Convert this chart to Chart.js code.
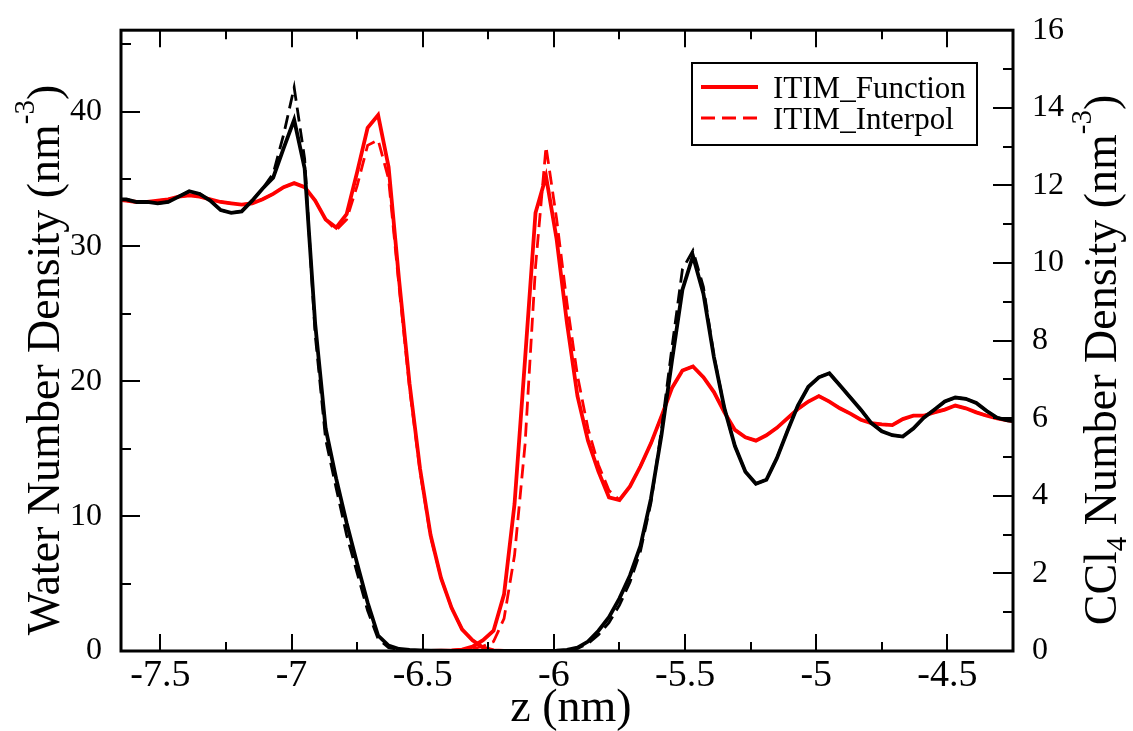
<!DOCTYPE html>
<html>
<head>
<meta charset="utf-8">
<title>ITIM density profiles</title>
<script src="https://cdn.jsdelivr.net/npm/chart.js"></script>
<style>
  html, body { margin: 0; padding: 0; background: #fff; }
  #wrap { width: 1133px; height: 731px; }
</style>
</head>
<body>
<div id="wrap"><canvas id="densityChart" width="1133" height="731"></canvas></div>
<script>
// z positions (nm) shared by all profiles
var zValues = [
  -7.67, -7.63, -7.59, -7.55, -7.51, -7.47, -7.43, -7.39, -7.35, -7.31,
  -7.27, -7.23, -7.19, -7.15, -7.11, -7.07, -7.03, -6.99, -6.95, -6.91,
  -6.87, -6.83, -6.79, -6.75, -6.71, -6.67, -6.63, -6.59, -6.55, -6.51,
  -6.47, -6.43, -6.39, -6.35, -6.31, -6.27, -6.23, -6.19, -6.15, -6.11,
  -6.07, -6.03, -5.99, -5.95, -5.91, -5.87, -5.83, -5.79, -5.75, -5.71,
  -5.67, -5.63, -5.59, -5.55, -5.51, -5.47, -5.43, -5.39, -5.35, -5.31,
  -5.27, -5.23, -5.19, -5.15, -5.11, -5.07, -5.03, -4.99, -4.95, -4.91,
  -4.87, -4.83, -4.79, -4.75, -4.71, -4.67, -4.63, -4.59, -4.55, -4.51,
  -4.47, -4.43, -4.39, -4.35, -4.31, -4.27, -4.23
];

// black profile, function version
var blackFunction = [
  33.5, 33.5, 33.3, 33.3, 33.2, 33.3, 33.7, 34.1, 33.9, 33.4,
  32.7, 32.5, 32.6, 33.4, 34.3, 35.1, 37.3, 39.4, 35.8, 24.3,
  16.5, 12.8, 9.5, 6.5, 3.6, 1.15, 0.4, 0.15, 0.08, 0.05,
  0.03, 0.02, 0.01, 0, 0, 0, 0, 0, 0, 0,
  0, 0.01, 0.02, 0.08, 0.25, 0.7, 1.5, 2.5, 3.9, 5.6,
  7.8, 11.3, 16.0, 21.5, 26.8, 29.3, 26.5, 21.8, 18.0, 15.2,
  13.3, 12.4, 12.7, 14.3, 16.3, 18.2, 19.6, 20.3, 20.6, 19.7,
  18.8, 17.9, 16.9, 16.3, 16.0, 15.9, 16.5, 17.3, 17.9, 18.5,
  18.8, 18.7, 18.4, 17.8, 17.3, 17.1, 17.0
];

// black profile, interpolated version
var blackInterpol = [
  33.5, 33.5, 33.3, 33.3, 33.2, 33.3, 33.7, 34.1, 33.9, 33.4,
  32.7, 32.5, 32.6, 33.4, 34.3, 35.4, 38.3, 41.8, 36.5, 23.5,
  15.7, 12.1, 8.6, 5.8, 3.0, 0.9, 0.25, 0.1, 0.05, 0.03,
  0.02, 0.01, 0, 0, 0, 0, 0, 0, 0, 0,
  0, 0, 0.01, 0.05, 0.2, 0.55, 1.2, 2.1, 3.4, 5.1,
  7.4, 11.0, 16.4, 22.5, 28.3, 29.7, 27.0, 21.9, 18.0, 15.2,
  13.3, 12.4, 12.7, 14.3, 16.3, 18.2, 19.6, 20.3, 20.6, 19.7,
  18.8, 17.9, 16.9, 16.3, 16.0, 15.9, 16.5, 17.3, 17.9, 18.5,
  18.8, 18.7, 18.4, 17.8, 17.3, 17.1, 17.0
];

// red profile on the left of the gap (ITIM_Function / ITIM_Interpol)
var redLeftFunction = [
  33.5, 33.4, 33.3, 33.3, 33.4, 33.5, 33.7, 33.8, 33.7, 33.5,
  33.3, 33.2, 33.1, 33.2, 33.5, 33.9, 34.4, 34.7, 34.4, 33.4,
  32.0, 31.4, 32.4, 35.5, 38.8, 39.75, 35.9, 27.5, 19.8, 13.5,
  8.6, 5.4, 3.2, 1.6, 0.8, 0.25, 0.05, 0, 0, 0,
  0, 0, 0, null, null, null, null, null, null, null,
  null, null, null, null, null, null, null, null, null, null,
  null, null, null, null, null, null, null, null, null, null,
  null, null, null, null, null, null, null, null, null, null,
  null, null, null, null, null, null, null
];

var redLeftInterpol = [
  33.5, 33.4, 33.3, 33.3, 33.4, 33.5, 33.7, 33.8, 33.7, 33.5,
  33.3, 33.2, 33.1, 33.2, 33.5, 33.9, 34.4, 34.7, 34.4, 33.4,
  32.0, 31.2, 32.0, 34.5, 37.5, 37.9, 35.0, 27.0, 19.5, 13.3,
  8.5, 5.4, 3.2, 1.6, 0.8, 0.25, 0.05, 0, 0, 0,
  0, 0, 0, null, null, null, null, null, null, null,
  null, null, null, null, null, null, null, null, null, null,
  null, null, null, null, null, null, null, null, null, null,
  null, null, null, null, null, null, null, null, null, null,
  null, null, null, null, null, null, null
];

// red profile on the right of the gap
var redRightFunction = [
  null, null, null, null, null, null, null, null, null, null,
  null, null, null, null, null, null, null, null, null, null,
  null, null, null, null, null, null, null, null, 0, 0,
  0, 0.02, 0.05, 0.1, 0.32, 0.8, 1.5, 4.2, 10.9, 21.6,
  32.5, 35.2, 30.6, 24.3, 18.9, 15.6, 13.3, 11.4, 11.2, 12.2,
  13.7, 15.4, 17.4, 19.5, 20.8, 21.1, 20.3, 19.2, 17.7, 16.4,
  15.85, 15.6, 16.0, 16.55, 17.25, 17.95, 18.5, 18.9, 18.5, 18.0,
  17.6, 17.15, 16.9, 16.8, 16.75, 17.2, 17.45, 17.45, 17.7, 17.9,
  18.2, 18.0, 17.7, 17.45, 17.25, 17.1, 17.0
];

var redRightInterpol = [
  null, null, null, null, null, null, null, null, null, null,
  null, null, null, null, null, null, null, null, null, null,
  null, null, null, null, null, null, null, null, 0, 0,
  0, 0.02, 0.05, 0.1, 0.15, 0.35, 0.7, 2.4, 7.1, 15.3,
  28.5, 37.4, 32.1, 25.8, 20.4, 16.5, 13.8, 11.9, 11.2, 12.2,
  13.7, 15.4, 17.4, 19.5, 20.8, 21.1, 20.3, 19.2, 17.7, 16.4,
  15.85, 15.6, 16.0, 16.55, 17.25, 17.95, 18.5, 18.9, 18.5, 18.0,
  17.6, 17.15, 16.9, 16.8, 16.75, 17.2, 17.45, 17.45, 17.7, 17.9,
  18.2, 18.0, 17.7, 17.45, 17.25, 17.1, 17.0
];

var zTicks = [-7.5, -7, -6.5, -6, -5.5, -5, -4.5];
var waterTicks = [0, 10, 20, 30, 40];
var ccl4Ticks = [0, 2, 4, 6, 8, 10, 12, 14, 16];
var legendLabels = ['ITIM_Function', 'ITIM_Interpol'];

var SERIF = '"Liberation Serif", "Times New Roman", serif';
var RED = '#ff0000';

function toPoints(values) {
    return zValues.map(function (z, i) {
        return { x: z, y: values[i] };
    }).filter(function (p) { return p.y !== null; });
}

function profile(label, values, color, dashed) {
    return {
        label: label,
        data: toPoints(values),
        borderColor: color,
        borderWidth: dashed ? 2.8 : 3.8,
        borderDash: dashed ? [14, 7] : [],
        pointRadius: 0,
        fill: false,
        tension: 0
    };
}

// inward tick marks on all four sides plus the frame
var frameTicks = {
    id: 'frameTicks',
    afterDatasetsDraw: function (chart) {
        var ctx = chart.ctx;
        var a = chart.chartArea;
        var sx = chart.scales.x, sy = chart.scales.y, sr = chart.scales.y1;
        ctx.save();
        ctx.strokeStyle = '#000';
        ctx.lineWidth = 2;
        ctx.beginPath();
        function xTick(v, len) {
            var px = Math.round(sx.getPixelForValue(v));
            ctx.moveTo(px, a.bottom); ctx.lineTo(px, a.bottom - len);
            ctx.moveTo(px, a.top); ctx.lineTo(px, a.top + len);
        }
        zTicks.forEach(function (v, i) {
            xTick(v, 17);
            if (i < zTicks.length - 1) xTick(v + 0.25, 9);
        });
        waterTicks.forEach(function (v) {
            var py = Math.round(sy.getPixelForValue(v));
            ctx.moveTo(a.left, py); ctx.lineTo(a.left + 19, py);
            var pm = Math.round(sy.getPixelForValue(v + 5));
            if (pm > a.top) { ctx.moveTo(a.left, pm); ctx.lineTo(a.left + 10, pm); }
        });
        ccl4Ticks.forEach(function (v) {
            var py = Math.round(sr.getPixelForValue(v));
            ctx.moveTo(a.right, py); ctx.lineTo(a.right - 20, py);
            var pm = Math.round(sr.getPixelForValue(v + 1));
            if (pm > a.top) { ctx.moveTo(a.right, pm); ctx.lineTo(a.right - 10, pm); }
        });
        ctx.stroke();
        ctx.lineWidth = 3;
        ctx.strokeRect(a.left, a.top, a.right - a.left, a.bottom - a.top);
        ctx.restore();
    }
};

// text runs with sub/superscripts, centred on (x, y)
function drawRich(ctx, parts, x, y, angle) {
    ctx.save();
    ctx.translate(x, y);
    ctx.rotate(angle);
    ctx.fillStyle = '#000';
    ctx.textAlign = 'left';
    ctx.textBaseline = 'alphabetic';
    var total = 0;
    parts.forEach(function (p) {
        ctx.font = p.size + 'px ' + SERIF;
        p.w = ctx.measureText(p.text).width;
        total += p.w;
    });
    var cx = -total / 2;
    parts.forEach(function (p) {
        ctx.font = p.size + 'px ' + SERIF;
        ctx.fillText(p.text, cx, p.shift || 0);
        cx += p.w;
    });
    ctx.restore();
}

var titlesAndLegend = {
    id: 'titlesAndLegend',
    afterDraw: function (chart) {
        var ctx = chart.ctx;
        var a = chart.chartArea;

        drawRich(ctx, [{ text: 'z (nm)', size: 46 }], (a.left + a.right) / 2 + 4, 721, 0);
        drawRich(ctx, [
            { text: 'Water Number Density (nm', size: 46 },
            { text: '-3', size: 29, shift: -25 },
            { text: ')', size: 46 }
        ], 59, 360, -Math.PI / 2);
        drawRich(ctx, [
            { text: 'CCl', size: 46 },
            { text: '4', size: 29, shift: 10 },
            { text: ' Number Density (nm', size: 46 },
            { text: '-3', size: 29, shift: -25 },
            { text: ')', size: 46 }
        ], 1116, 360, -Math.PI / 2);

        // legend box
        var bx = 692, by = 63, bw = 285, bh = 82;
        ctx.save();
        ctx.fillStyle = '#fff';
        ctx.fillRect(bx, by, bw, bh);
        ctx.strokeStyle = '#000';
        ctx.lineWidth = 2;
        ctx.strokeRect(bx, by, bw, bh);
        var rows = [87, 118];
        ctx.strokeStyle = RED;
        rows.forEach(function (ry, i) {
            ctx.beginPath();
            ctx.lineWidth = i === 0 ? 3.8 : 2.8;
            ctx.setLineDash(i === 0 ? [] : [14, 7]);
            ctx.moveTo(701, ry);
            ctx.lineTo(758, ry);
            ctx.stroke();
        });
        ctx.setLineDash([]);
        ctx.fillStyle = '#000';
        ctx.font = '31px ' + SERIF;
        ctx.textAlign = 'left';
        ctx.textBaseline = 'alphabetic';
        rows.forEach(function (ry, i) {
            ctx.fillText(legendLabels[i], 773, ry + 10.5);
        });
        ctx.restore();
    }
};

var ctx = document.getElementById('densityChart').getContext('2d');
var densityChart = new Chart(ctx, {
    type: 'line',
    data: {
        datasets: [
            profile('Black function', blackFunction, '#000', false),
            profile('Black interpol', blackInterpol, '#000', true),
            profile('ITIM_Function', redLeftFunction, RED, false),
            profile('ITIM_Interpol', redLeftInterpol, RED, true),
            profile('ITIM_Function right', redRightFunction, RED, false),
            profile('ITIM_Interpol right', redRightInterpol, RED, true)
        ]
    },
    options: {
        responsive: false,
        animation: false,
        devicePixelRatio: 1,
        layout: { padding: { top: 28, left: 0, right: 0, bottom: 0 } },
        plugins: {
            legend: { display: false },
            tooltip: { enabled: false }
        },
        scales: {
            x: {
                type: 'linear',
                min: -7.65,
                max: -4.25,
                grid: { display: false },
                border: { display: false },
                ticks: {
                    font: { family: SERIF, size: 38 },
                    color: '#000',
                    padding: -6,
                    autoSkip: false,
                    maxRotation: 0,
                    callback: function (v) { return String(v); }
                },
                afterBuildTicks: function (scale) {
                    scale.ticks = zTicks.map(function (v) { return { value: v }; });
                },
                afterFit: function (scale) { scale.height = 80; }
            },
            y: {
                position: 'left',
                min: 0,
                max: 46.04,
                grid: { display: false },
                border: { display: false },
                ticks: {
                    font: { family: SERIF, size: 32 },
                    color: '#000',
                    padding: 11
                },
                afterBuildTicks: function (scale) {
                    scale.ticks = waterTicks.map(function (v) { return { value: v }; });
                },
                afterFit: function (scale) { scale.width = 121; }
            },
            y1: {
                position: 'right',
                min: 0,
                max: 16,
                grid: { display: false },
                border: { display: false },
                ticks: {
                    font: { family: SERIF, size: 32 },
                    color: '#000',
                    padding: 11
                },
                afterBuildTicks: function (scale) {
                    scale.ticks = ccl4Ticks.map(function (v) { return { value: v }; });
                },
                afterFit: function (scale) { scale.width = 120; }
            }
        }
    },
    plugins: [frameTicks, titlesAndLegend]
});
</script>
</body>
</html>
